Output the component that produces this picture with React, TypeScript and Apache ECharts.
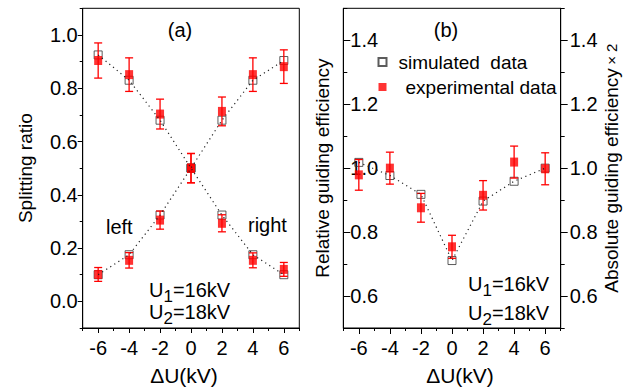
import React, { useEffect, useRef } from "react";
import * as echarts from "echarts";

// ---- data ----
const dU = [-6, -4, -2, 0, 2, 4, 6];
const xTicks = [-7, -6, -5, -4, -3, -2, -1, 0, 1, 2, 3, 4, 5, 6, 7];
const yTicksA = [-0.1, 0.0, 0.1, 0.2, 0.3, 0.4, 0.5, 0.6, 0.7, 0.8, 0.9, 1.0, 1.1];
const yTicksB = [0.5, 0.6, 0.7, 0.8, 0.9, 1.0, 1.1, 1.2, 1.3, 1.4, 1.5];

// panel (a): splitting ratio
const simDesc = [0.925, 0.83, 0.68, 0.5, 0.324, 0.175, 0.1];
const simAsc = [0.1, 0.175, 0.324, 0.5, 0.68, 0.83, 0.904];
const expDesc = [0.904, 0.851, 0.703, 0.5, 0.293, 0.154, 0.12];
const errDesc = [0.066, 0.063, 0.056, 0.055, 0.032, 0.028, 0.026];
const expAsc = [0.101, 0.154, 0.305, 0.5, 0.713, 0.851, 0.881];
const errAsc = [0.026, 0.029, 0.034, 0.055, 0.054, 0.063, 0.063];

// panel (b): guiding efficiency
const simB = [1.018, 0.977, 0.918, 0.711, 0.897, 0.959, 1.0];
const expB = [0.979, 1.0, 0.876, 0.754, 0.915, 1.019, 0.998];
const errB = [0.048, 0.05, 0.045, 0.036, 0.046, 0.05, 0.05];

const SIM = "simulated  data";
const EXP = "experimental data";
const FONT = "'Liberation Sans', Arial, sans-serif";
const RED = "#ff0000";

const pairs = (ys: number[]) => dU.map((x, i) => [x, ys[i]]);
const errData = (ys: number[], es: number[]) =>
  dU.map((x, i) => [x, ys[i] - es[i], ys[i] + es[i]]);

function simSeries(ys: number[], xi: number, yi: number) {
  return {
    type: "scatter",
    name: SIM,
    xAxisIndex: xi,
    yAxisIndex: yi,
    data: pairs(ys),
    symbol: "rect",
    symbolSize: 8,
    itemStyle: { color: "rgba(255,255,255,0)", borderColor: "#333", borderWidth: 1 },
    z: 2,
  };
}
function expSeries(ys: number[], xi: number, yi: number) {
  return {
    type: "scatter",
    name: EXP,
    xAxisIndex: xi,
    yAxisIndex: yi,
    data: pairs(ys),
    symbol: "rect",
    symbolSize: [8, 9],
    itemStyle: { color: RED },
    z: 4,
  };
}
function errSeries(ys: number[], es: number[], xi: number, yi: number) {
  return {
    type: "custom",
    name: "error",
    xAxisIndex: xi,
    yAxisIndex: yi,
    data: errData(ys, es),
    encode: { x: 0, y: [1, 2] },
    itemStyle: { color: RED },
    z: 3,
    renderItem: (params: any, api: any) => {
      const x = api.value(0);
      const lo = api.coord([x, api.value(1)]);
      const hi = api.coord([x, api.value(2)]);
      const hw = 4;
      const st = { stroke: RED, lineWidth: 1.3 };
      return {
        type: "group",
        children: [
          { type: "line", shape: { x1: lo[0], y1: lo[1], x2: hi[0], y2: hi[1] }, style: st },
          { type: "line", shape: { x1: lo[0] - hw, y1: lo[1], x2: lo[0] + hw, y2: lo[1] }, style: st },
          { type: "line", shape: { x1: hi[0] - hw, y1: hi[1], x2: hi[0] + hw, y2: hi[1] }, style: st },
        ],
      };
    },
  };
}
function dotSeries(ys: number[], xi: number, yi: number) {
  return {
    type: "line",
    name: "fit",
    xAxisIndex: xi,
    yAxisIndex: yi,
    data: pairs(ys),
    symbol: "none",
    showSymbol: false,
    lineStyle: { color: "#222", width: 1.2, type: [1.2, 3.6] },
    z: 5,
  };
}

function xValueAxis(gridIndex: number, nameShift: number) {
  return {
    type: "value",
    gridIndex,
    min: -7,
    max: 7,
    interval: 1,
    position: "bottom",
    axisLine: { show: true, onZero: false, lineStyle: { color: "#000", width: 1 } },
    axisTick: { show: true, length: 3, lineStyle: { color: "#000" } },
    axisLabel: {
      fontSize: 20,
      color: "#000",
      margin: 10,
      formatter: (v: number) => (Math.round(v) % 2 === 0 ? String(Math.round(v)) : ""),
    },
    splitLine: { show: false },
    name: "ΔU(kV)",
    nameLocation: "middle",
    nameGap: 37,
    nameTextStyle: {
      fontSize: 21,
      color: "#000",
      padding: nameShift > 0 ? [0, 0, 0, nameShift] : [0, -nameShift, 0, 0],
    },
  };
}
function xCatAxis(gridIndex: number, len: number) {
  return {
    type: "category",
    gridIndex,
    data: xTicks.map(String),
    boundaryGap: false,
    position: "bottom",
    axisLine: { show: false, onZero: false },
    axisLabel: { show: false },
    axisTick: { show: true, length: len, interval: (i: number) => i % 2 === 1, lineStyle: { color: "#000" } },
    splitLine: { show: false },
  };
}
const yFmt = (v: number) => {
  const k = Math.round(v * 10);
  return k % 2 === 0 ? (k / 10).toFixed(1) : "";
};
function yCatAxis(gridIndex: number, ticks: number[], position: string, inside: boolean, len: number) {
  return {
    type: "category",
    gridIndex,
    position,
    data: ticks.map((t) => t.toFixed(1)),
    boundaryGap: false,
    axisLine: { show: false, onZero: false },
    axisLabel: { show: false },
    axisTick: { show: true, inside, length: len, interval: (i: number) => i % 2 === 1, lineStyle: { color: "#000" } },
    splitLine: { show: false },
  };
}

function subLabel(x: number, y: number, sub: string, rest: string) {
  const base = { fontSize: 20, fontFamily: FONT, fill: "#000" };
  return {
    type: "group",
    x,
    y,
    children: [
      { type: "text", x: 0, y: 0, style: { ...base, text: "U", textAlign: "left", textVerticalAlign: "middle" } },
      { type: "text", x: 14.4, y: 6, style: { ...base, fontSize: 17, text: sub, textAlign: "left", textVerticalAlign: "middle" } },
      { type: "text", x: 23.9, y: 0, style: { ...base, text: rest, textAlign: "left", textVerticalAlign: "middle" } },
    ],
  };
}
function plainText(x: number, y: number, text: string, align: string) {
  return {
    type: "text",
    x,
    y,
    style: { text, fontSize: 20, fontFamily: FONT, fill: "#000", textAlign: align, textVerticalAlign: "middle" },
  };
}

export default function App() {
  const ref = useRef<HTMLDivElement>(null);
  useEffect(() => {
    if (!ref.current) return;
    const chart = echarts.init(ref.current, undefined, { renderer: "svg" });
    const option: any = {
      animation: false,
      backgroundColor: "#fff",
      textStyle: { fontFamily: FONT },
      grid: [
        { left: 82.7, top: 8.3, width: 216.6, height: 325, show: true, borderColor: "#000", borderWidth: 1, backgroundColor: "transparent" },
        { left: 343.3, top: 8.3, width: 217.4, height: 325.5, show: true, borderColor: "#000", borderWidth: 1, backgroundColor: "transparent" },
      ],
      xAxis: [xValueAxis(0, -14), xCatAxis(0, 5), xValueAxis(1, 16), xCatAxis(1, 6)],
      yAxis: [
        {
          type: "value",
          gridIndex: 0,
          position: "left",
          min: -0.1,
          max: 1.1,
          interval: 0.1,
          axisLine: { show: true, onZero: false, lineStyle: { color: "#000" } },
          axisTick: { show: true, length: 3, lineStyle: { color: "#000" } },
          axisLabel: { fontSize: 20, color: "#000", margin: 5, formatter: yFmt },
          splitLine: { show: false },
          name: "Splitting ratio",
          nameLocation: "middle",
          nameRotate: 90,
          nameGap: 48,
          nameTextStyle: { fontSize: 19, color: "#000" },
        },
        yCatAxis(0, yTicksA, "left", false, 5),
        {
          type: "value",
          gridIndex: 1,
          position: "left",
          min: 0.5,
          max: 1.5,
          interval: 0.1,
          axisLine: { show: true, onZero: false, lineStyle: { color: "#000" } },
          axisTick: { show: true, inside: true, length: 4, lineStyle: { color: "#000" } },
          axisLabel: { fontSize: 20, color: "#000", inside: true, margin: 7, formatter: yFmt },
          splitLine: { show: false },
          name: "Relative guiding efficiency",
          nameLocation: "middle",
          nameRotate: 90,
          nameGap: 11,
          nameTextStyle: { fontSize: 19, color: "#000" },
        },
        yCatAxis(1, yTicksB, "left", true, 7),
        {
          type: "value",
          gridIndex: 1,
          position: "right",
          min: 0.5,
          max: 1.5,
          interval: 0.1,
          axisLine: { show: true, onZero: false, lineStyle: { color: "#000" } },
          axisTick: { show: true, length: 4, lineStyle: { color: "#000" } },
          axisLabel: { fontSize: 20, color: "#000", margin: 9, formatter: yFmt },
          splitLine: { show: false },
          name: "{a|Absolute guiding efficiency} {b|× 2}",
          nameLocation: "middle",
          nameRotate: 90,
          nameGap: 41,
          nameTextStyle: {
            color: "#000",
            rich: { a: { fontSize: 19, color: "#000", fontFamily: FONT }, b: { fontSize: 15, color: "#000", fontFamily: FONT } },
          },
        },
        yCatAxis(1, yTicksB, "right", false, 7),
      ],
      legend: {
        orient: "vertical",
        left: 377.5,
        top: 52.5,
        padding: 0,
        itemWidth: 8,
        itemHeight: 8,
        itemGap: 6,
        icon: "rect",
        selectedMode: false,
        textStyle: { fontSize: 19, lineHeight: 19, color: "#000", fontFamily: FONT },
        data: [
          { name: SIM, textStyle: { padding: [0, 0, 0, 7] } },
          { name: EXP, textStyle: { padding: [0, 0, 0, 14] } },
        ],
      },
      series: [
        simSeries(simDesc, 0, 0),
        simSeries(simAsc, 0, 0),
        errSeries(expDesc, errDesc, 0, 0),
        errSeries(expAsc, errAsc, 0, 0),
        expSeries(expDesc, 0, 0),
        expSeries(expAsc, 0, 0),
        dotSeries(simDesc, 0, 0),
        dotSeries(simAsc, 0, 0),
        simSeries(simB, 2, 2),
        errSeries(expB, errB, 2, 2),
        expSeries(expB, 2, 2),
        dotSeries(simB, 2, 2),
      ],
      graphic: [
        plainText(180, 30, "(a)", "center"),
        plainText(446, 30, "(b)", "center"),
        plainText(106, 227, "left", "left"),
        plainText(248, 225, "right", "left"),
        subLabel(149, 290, "1", "=16kV"),
        subLabel(149, 312, "2", "=18kV"),
        subLabel(468, 284, "1", "=16kV"),
        subLabel(468, 313, "2", "=18kV"),
      ],
    };
    chart.setOption(option);
    return () => chart.dispose();
  }, []);
  return (
    <div
      ref={ref}
      style={{ position: "absolute", left: 0, top: 0, width: 632, height: 391, background: "#fff" }}
    />
  );
}
